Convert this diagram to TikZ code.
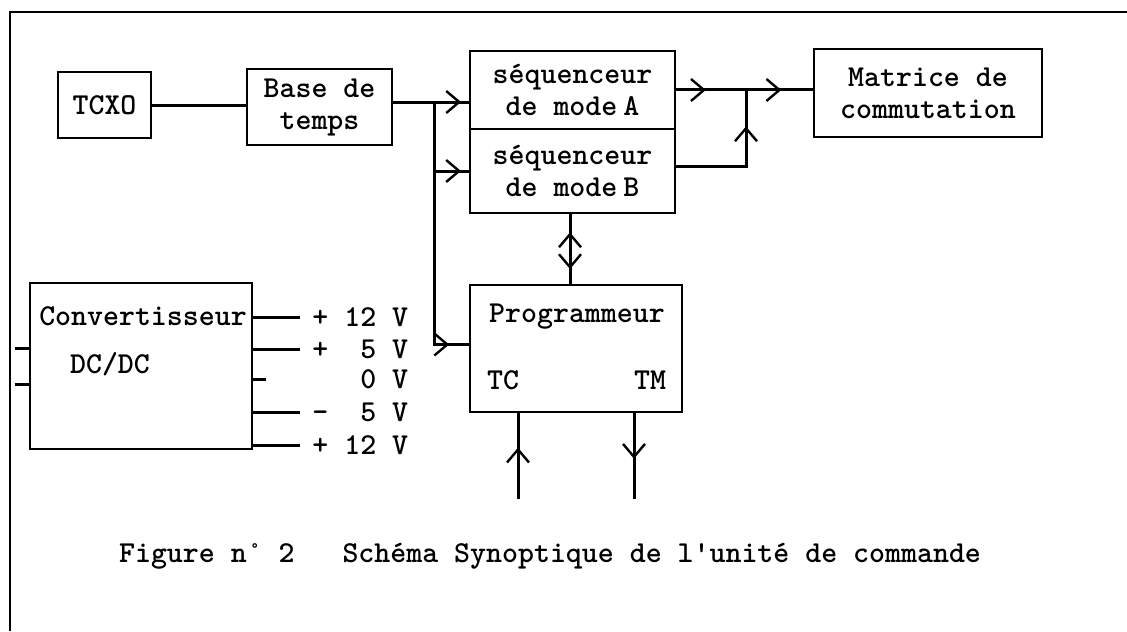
\documentclass[tikz,border=0pt]{standalone}
\usetikzlibrary{arrows.meta,decorations.markings}
\newcommand\tw{\fontsize{15.2}{16}\selectfont\ttfamily\fontseries{b}\selectfont}
\tikzset{
  box/.style={draw, line width=1.4pt, inner sep=0pt, align=center, font=\tw},
  wire/.style={line width=1.5pt},
  lbl/.style={inner sep=0pt, font=\tw},
  mk/.style={postaction={decorate, decoration={markings,
      mark=at position #1 with {\arrow{Straight Barb[length=6.5pt,width=11pt,line width=1.2pt]}}}}},
  mkr/.style={postaction={decorate, decoration={markings,
      mark=at position #1 with {\arrowreversed{Straight Barb[length=6.5pt,width=11pt,line width=1.2pt]}}}}},
}
\begin{document}
\begin{tikzpicture}[x=0.5pt,y=-0.5pt]
\useasboundingbox (0,0) rectangle (1127,631);
% frame
\coordinate (ftl) at (10,12);
\coordinate (ftr) at (1127,12);
\coordinate (fbl) at (10,631);
\draw[line width=1.4pt] (ftr) -- (ftl) -- (fbl);

% blocks
\node[box, minimum width=46.5pt, minimum height=33pt] (tcxo) at (104.5,105) {TCXO};
\node[box, minimum width=72.5pt, minimum height=38pt] (base) at (319.5,107) {Base de\\temps};
\node[box, minimum width=102.5pt, minimum height=39pt] (seqA) at (572.5,90) {séquenceur\\de mode\hspace{3pt}A};
\node[box, minimum width=102.5pt, minimum height=42pt] (seqB) at (572.5,171) {séquenceur\\de mode\hspace{3pt}B};
\node[box, minimum width=114pt, minimum height=44pt] (mat) at (928,93) {Matrice de\\commutation};
\node[box, minimum width=106pt, minimum height=63.5pt] (prog) at (576,348.5) {};
\node[box, minimum width=111pt, minimum height=83pt] (conv) at (141,366) {};

% texts inside empty boxes
\node[lbl] (progt) at (577,317) {Programmeur};
\node[lbl] (tc) at (503,380) {TC};
\node[lbl] (tm) at (650,380) {TM};
\node[lbl] (convt) at (143,316) {Convertisseur};
\node[lbl] (dcdc) at (110,364) {DC/DC};

% voltage labels
\node[lbl, anchor=west] (v1) at (312,317) {+ 12 V};
\node[lbl, anchor=west] (v2) at (312,349) {+ \phantom{1}5 V};
\node[lbl, anchor=west] (v3) at (312,379) {\phantom{+ 1}0 V};
\node[lbl, anchor=west] (v4) at (312,412) {- \phantom{1}5 V};
\node[lbl, anchor=west] (v5) at (312,445) {+ 12 V};

% caption
\node[lbl] (cap) at (550,556) {Figure n° 2\ \ \ Schéma Synoptique de l\textquotesingle unité de commande};

% coordinates
\coordinate (j1) at (434,102);
\coordinate (j4) at (746,90);
\coordinate (d1) at (570,0);
\coordinate (tcin) at (518,499);
\coordinate (tmout) at (634,499);
\coordinate (s1) at (15,348);
\coordinate (s2) at (15,384);

% connectors
\draw[wire] (tcxo.east) -- (base.west |- tcxo.east);
\draw[wire, mk=0.9] ([yshift=2.5pt]base.east) -- (seqA.west |- j1);
\draw[wire, mk=0.78] (j1 |- seqB.west) -- (seqB.west);
\draw[wire, mk=0.93] (j1) |- ([yshift=2pt]prog.west);
\draw[wire, mk=0.216, mk=0.77] (seqA.east) -- (seqA.east -| mat.west);
\draw[wire, mk=0.75] ([yshift=2.5pt]seqB.east) -| (j4);
\draw[wire, mkr=0.26, mk=0.79] (seqB.south -| d1) -- (prog.north -| d1);
\draw[wire, mk=0.6] (tcin) -- (tcin |- prog.south);
\draw[wire, mk=0.53] (tmout |- prog.south) -- (tmout);

% converter inputs
\draw[wire] (s1) -- (s1 -| conv.west);
\draw[wire] (s2) -- (s2 -| conv.west);

% converter outputs
\draw[wire] (v1.west -| conv.east) -- ([xshift=-6pt]v1.west);
\draw[wire] (v2.west -| conv.east) -- ([xshift=-6pt]v2.west);
\draw[wire] (v3.west -| conv.east) -- ([xshift=6.5pt]v3.west -| conv.east);
\draw[wire] (v4.west -| conv.east) -- ([xshift=-6pt]v4.west);
\draw[wire] (v5.west -| conv.east) -- ([xshift=-6pt]v5.west);
\end{tikzpicture}
\end{document}
